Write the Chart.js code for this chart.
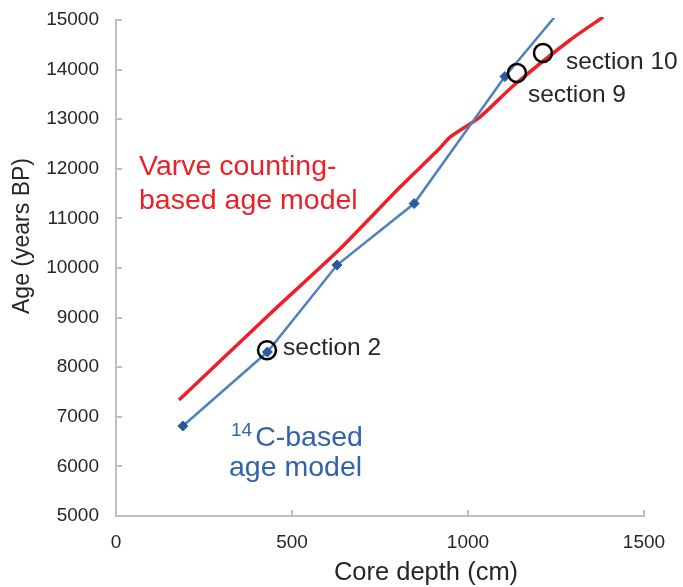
<!DOCTYPE html>
<html>
<head>
<meta charset="utf-8">
<script src="https://cdn.jsdelivr.net/npm/chart.js@4.4.0/dist/chart.umd.min.js"></script>
<style>
  body { margin: 0; background: #fff; }
  #wrap { width: 683px; height: 587px; }
</style>
</head>
<body>
<div id="wrap"><canvas id="ageChart" width="683" height="587"></canvas></div>
<script>
// Varve counting-based age model (depth in cm, age in years BP)
const varveDepth = [179, 437, 636, 807, 915, 949, 1034, 1128, 1290, 1384];
const varveAge = [7339, 9073, 10383, 11633, 12379, 12641, 13044, 13669, 14597, 15060];

// 14C-based age model (dated levels, last point runs off the top)
const c14Depth = [190, 430, 628, 847, 1105, 1245];
const c14Age = [6815, 8306, 10060, 11300, 13860, 15050];

// section boundaries
const sectionNames = ["section 2", "section 9", "section 10"];
const sectionDepth = [429, 1139, 1213];
const sectionAge = [8340, 13930, 14335];

const xTicks = [0, 500, 1000, 1500];
const yTicks = [5000, 6000, 7000, 8000, 9000, 10000, 11000, 12000, 13000, 14000, 15000];

const FONT = "'Liberation Sans', Arial, sans-serif";
const TEXT = "#262626";
const AXIS = "#bfbfbf";
const RED = "#ee2027";
const BLUE = "#4f81bd";
const BLUE_DARK = "#2b5a9b";
const BLUE_TEXT = "#3462ad";

function toPoints(xs, ys) {
    return xs.map((x, i) => ({ x: x, y: ys[i] }));
}

// inward tick marks, axis titles and the text labels
const decorations = {
    id: "decorations",
    afterDraw(chart) {
        const ctx = chart.ctx;
        const area = chart.chartArea;
        const xs = chart.scales.x;
        const ys = chart.scales.y;

        ctx.save();
        ctx.strokeStyle = AXIS;
        ctx.lineWidth = 2;
        ctx.beginPath();
        yTicks.forEach(v => {
            const py = Math.round(ys.getPixelForValue(v));
            ctx.moveTo(area.left, py);
            ctx.lineTo(area.left + 6, py);
        });
        xTicks.forEach(v => {
            const px = Math.round(xs.getPixelForValue(v));
            ctx.moveTo(px, area.bottom);
            ctx.lineTo(px, area.bottom - 6);
        });
        ctx.stroke();

        // axis titles
        ctx.fillStyle = TEXT;
        ctx.textAlign = "center";
        ctx.textBaseline = "middle";
        ctx.font = "25.5px " + FONT;
        ctx.fillText("Core depth (cm)", 426, 573);
        ctx.font = "23px " + FONT;
        ctx.save();
        ctx.translate(23, 236);
        ctx.rotate(-Math.PI / 2);
        ctx.fillText("Age (years BP)", 0, 0);
        ctx.restore();

        // section labels next to their circles
        const offsets = [[16, -2], [11, 22], [23, 9]];
        ctx.textAlign = "left";
        ctx.font = "24.5px " + FONT;
        sectionNames.forEach((name, i) => {
            const px = xs.getPixelForValue(sectionDepth[i]);
            const py = ys.getPixelForValue(sectionAge[i]);
            ctx.fillText(name, px + offsets[i][0], py + offsets[i][1]);
        });

        // model labels
        ctx.textBaseline = "alphabetic";
        ctx.font = "28.5px " + FONT;
        ctx.fillStyle = RED;
        ctx.fillText("Varve counting-", 139, 175);
        ctx.fillText("based age model", 139, 209);

        ctx.fillStyle = BLUE_TEXT;
        ctx.font = "19px " + FONT;
        ctx.fillText("14", 231, 436);
        const supW = ctx.measureText("14").width;
        ctx.font = "28.5px " + FONT;
        ctx.fillText("C-based", 231 + supW + 3, 446);
        ctx.fillText("age model", 229, 476);
        ctx.restore();
    }
};

new Chart(document.getElementById("ageChart"), {
    type: "scatter",
    data: {
        datasets: [
            {
                label: "sections",
                data: toPoints(sectionDepth, sectionAge),
                showLine: false,
                pointStyle: "circle",
                pointRadius: 9,
                pointBorderWidth: 2.5,
                borderColor: "#000",
                backgroundColor: "rgba(0,0,0,0)",
                order: 0
            },
            {
                label: "14C-based age model",
                data: toPoints(c14Depth, c14Age),
                showLine: true,
                borderColor: BLUE,
                borderWidth: 2.5,
                pointStyle: "rectRot",
                pointRadius: c14Depth.map((d, i) => i === c14Depth.length - 1 ? 0 : 5),
                pointBackgroundColor: BLUE_DARK,
                pointBorderColor: BLUE_DARK,
                pointBorderWidth: 1,
                clip: 2,
                order: 1
            },
            {
                label: "Varve counting-based age model",
                data: toPoints(varveDepth, varveAge),
                showLine: true,
                borderColor: RED,
                borderWidth: 3.5,
                borderJoinStyle: "round",
                tension: 0.2,
                pointRadius: 0,
                clip: 3,
                order: 2
            }
        ]
    },
    options: {
        responsive: false,
        animation: false,
        events: [],
        layout: { padding: { top: 20, right: 39, left: 0, bottom: 0 } },
        plugins: {
            legend: { display: false },
            tooltip: { enabled: false }
        },
        scales: {
            x: {
                type: "linear",
                min: 0,
                max: 1500,
                afterBuildTicks: s => { s.ticks = xTicks.map(v => ({ value: v })); },
                afterFit: s => { s.height = 71; s.paddingLeft = 0; s.paddingRight = 0; },
                grid: { drawOnChartArea: false, drawTicks: false },
                border: { display: true, color: AXIS, width: 2 },
                ticks: { color: TEXT, font: { size: 19, family: FONT }, padding: 15, maxRotation: 0, callback: v => String(v) }
            },
            y: {
                type: "linear",
                min: 5000,
                max: 15000,
                afterBuildTicks: s => { s.ticks = yTicks.map(v => ({ value: v })); },
                afterFit: s => { s.width = 116; s.paddingTop = 0; s.paddingBottom = 0; },
                grid: { drawOnChartArea: false, drawTicks: false },
                border: { display: true, color: AXIS, width: 2 },
                ticks: { color: TEXT, font: { size: 19, family: FONT }, padding: 17, callback: v => String(v) }
            }
        }
    },
    plugins: [decorations]
});
</script>
</body>
</html>
